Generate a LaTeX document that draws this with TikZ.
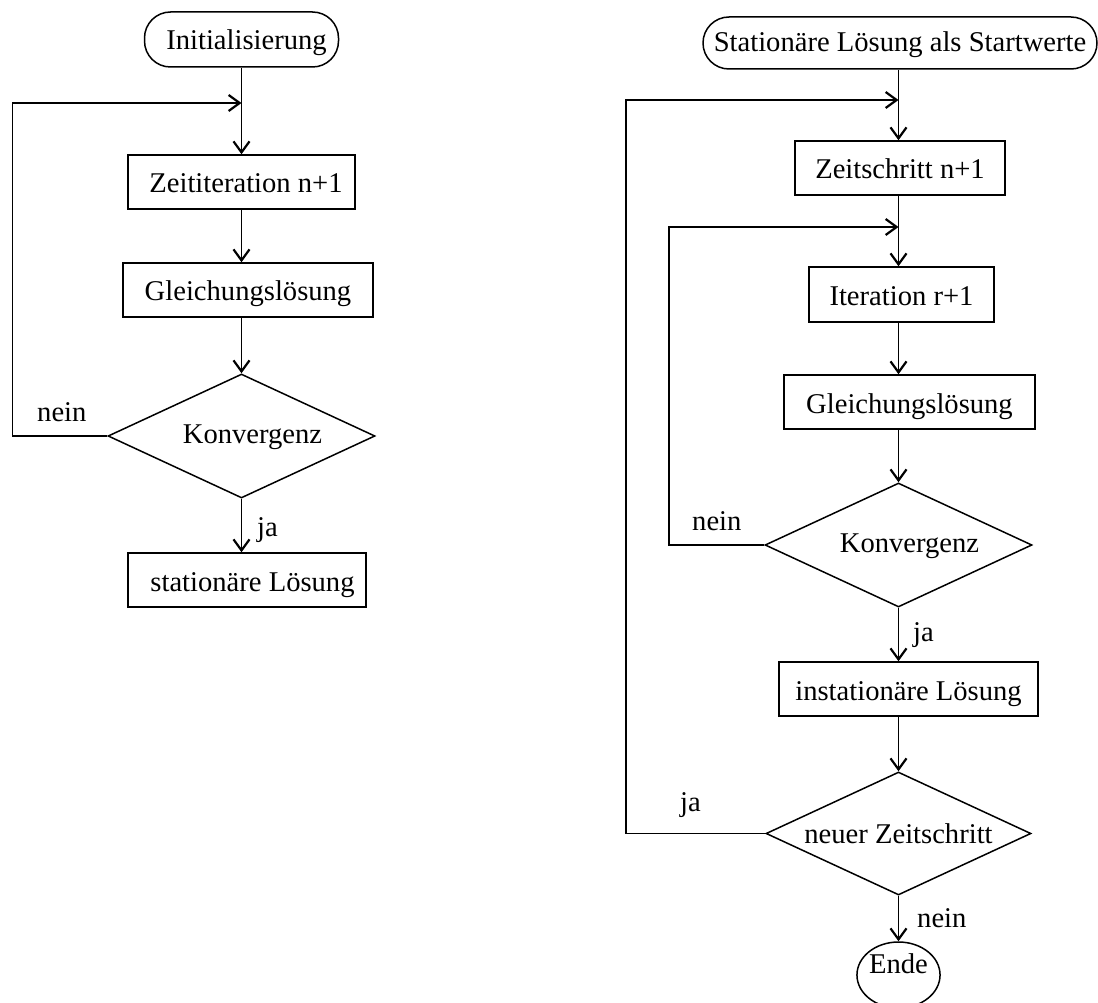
\documentclass[tikz,border=0pt]{standalone}
\usepackage{fontspec}
\setmainfont{Liberation Serif}
\usetikzlibrary{shapes.geometric,arrows.meta}

\tikzset{
  flow/.style={draw, line width=1.5pt, inner sep=0pt, text depth=0pt,
    font=\fontsize{28.6pt}{34pt}\selectfont},
  procbox/.style={flow, rectangle, text height=22pt},
  termbox/.style={flow, rectangle, rounded corners=26pt},
  decision/.style={flow, diamond, aspect=2.15},
  endbox/.style={flow, ellipse},
  lbl/.style={inner sep=0pt, anchor=base west, font=\fontsize{28.6pt}{34pt}\selectfont},
  arr/.style={line width=1.5pt,
    -{Straight Barb[length=11pt,width=16pt,line width=2.2pt]}},
}

\begin{document}
\begin{tikzpicture}[x=1pt,y=-1pt]
\useasboundingbox (0,0) rectangle (1098,1003);
\clip (0,0) rectangle (1098,1003);

% ---------- stationary solver ----------
\node[termbox, minimum width=194pt, minimum height=55pt, text height=20pt]
  (init) at (241.5,39.5) {\hspace*{10pt}Initialisierung};
\coordinate (jL) at (241.5,103);
\coordinate (cL) at (12.7,103);
\node[procbox, minimum width=227pt, minimum height=54pt]
  (zt) at (241.5,182) {\hspace*{9pt}Zeititeration n+1};
\node[procbox, minimum width=250pt, minimum height=54pt]
  (glL) at (248,290) {Gleichungslösung};
\node[decision, minimum width=267pt, minimum height=124pt, text height=14pt]
  (kL) at (241.5,436) {\hspace*{22pt}Konvergenz};
\node[procbox, minimum width=238pt, minimum height=54pt]
  (stL) at (247,580) {\hspace*{11pt}stationäre Lösung};

\draw[arr] (init) -- (zt);
\draw[arr] (kL.west) -| (cL) -- (jL);
\draw[arr] (zt.south) -- (zt.south |- glL.north);
\draw[arr] (glL.south -| kL.north) -- (kL.north);
\draw[arr] (kL.south) -- (kL.south |- stL.north);

\node[lbl] (neinL) at (37,421) {nein};
\node[lbl] (jaL) at (257,536) {ja};

% ---------- transient solver ----------
\coordinate (colR) at (898.5,0);
\node[termbox, minimum width=394pt, minimum height=52pt, text height=17pt]
  (start) at (900,43) {Stationäre Lösung als Startwerte};
\coordinate (jR1) at (898.5,100);
\coordinate (cR1) at (626,100);
\node[procbox, minimum width=210pt, minimum height=54pt]
  (zs) at (900,168) {Zeitschritt n+1};
\coordinate (jR2) at (898.5,227);
\coordinate (cR2) at (669,227);
\node[procbox, minimum width=185pt, minimum height=55pt]
  (it) at (901.5,294.5) {Iteration r+1};
\node[procbox, minimum width=251pt, minimum height=54pt]
  (glR) at (909.5,402) {Gleichungslösung};
\node[decision, minimum width=267pt, minimum height=124pt, text height=14pt]
  (kR) at (898.5,545) {\hspace*{22pt}Konvergenz};
\node[procbox, minimum width=259pt, minimum height=54pt]
  (ins) at (908.5,689) {instationäre Lösung};
\node[decision, minimum width=265pt, minimum height=123pt, text height=20pt]
  (nz) at (898.5,833.5) {neuer Zeitschritt};
\node[endbox, minimum width=82pt, minimum height=66pt, text height=0pt, text depth=4pt]
  (ende) at (898.5,975) {Ende};

\draw[arr] (start.south -| colR) -- (zs.north -| colR);
\draw[arr] (nz.west) -| (cR1) -- (jR1);
\draw[arr] (zs.south -| colR) -- (it.north -| colR);
\draw[arr] (kR.west) -| (cR2) -- (jR2);
\draw[arr] (it.south -| colR) -- (glR.north -| colR);
\draw[arr] (glR.south -| colR) -- (kR.north);
\draw[arr] (kR.south) -- (ins.north -| colR);
\draw[arr] (ins.south -| colR) -- (nz.north);
\draw[arr] (nz.south) -- (ende.north);

\node[lbl] (neinR1) at (692,530) {nein};
\node[lbl] (jaR1) at (913,641) {ja};
\node[lbl] (jaR2) at (680,811) {ja};
\node[lbl] (neinR2) at (917,927) {nein};
\end{tikzpicture}
\end{document}
